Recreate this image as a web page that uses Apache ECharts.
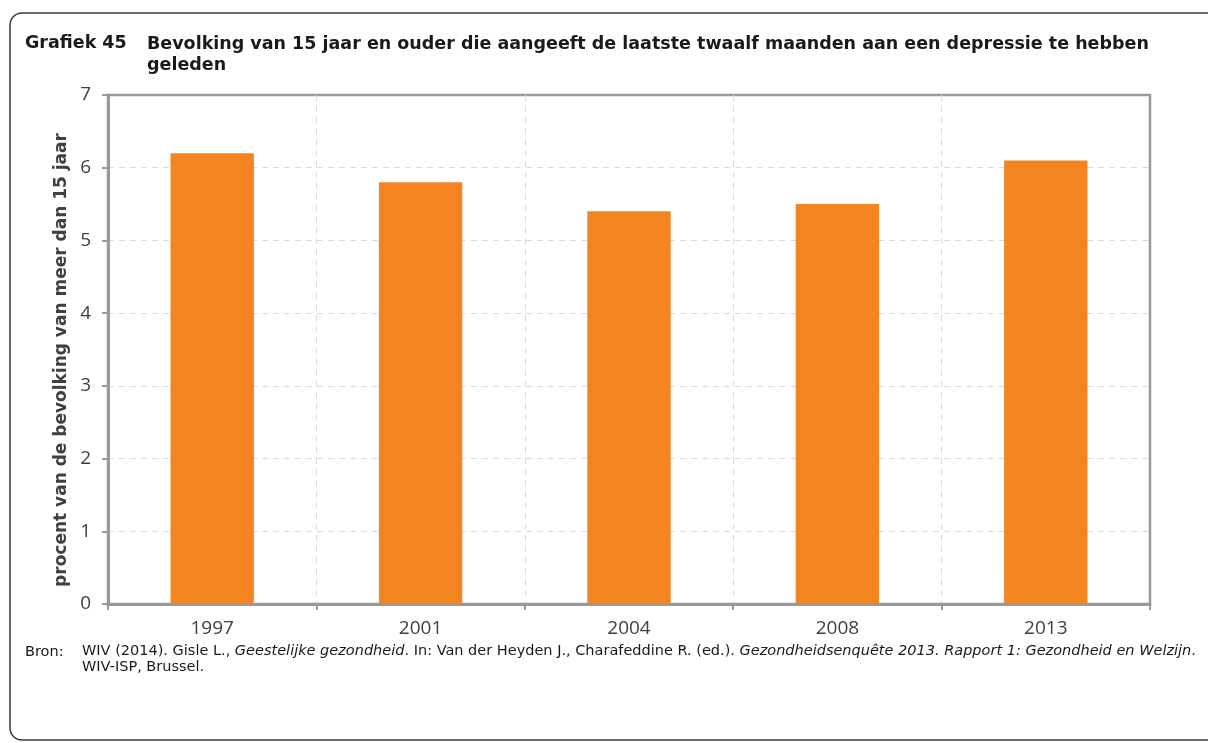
<!DOCTYPE html>
<html>
<head>
<meta charset="utf-8">
<script src="https://cdn.jsdelivr.net/npm/echarts@6/dist/echarts.min.js"></script>
<style>
  html, body { margin: 0; padding: 0; background: #fff; }
  #chart { width: 1208px; height: 743px; }
</style>
</head>
<body>
<div id="chart"></div>
<script>
// Survey years and share of population (15+) reporting depression in the last 12 months
const years = ['1997', '2001', '2004', '2008', '2013'];
const percentages = [6.2, 5.8, 5.4, 5.5, 6.1];
const yTicks = [0, 1, 2, 3, 4, 5, 6, 7];

const titleNumber = 'Grafiek 45';
const titleLine1 = 'Bevolking van 15 jaar en ouder die aangeeft de laatste twaalf maanden aan een depressie te hebben';
const titleLine2 = 'geleden';
const yAxisName = 'procent van de bevolking van meer dan 15 jaar';

const chart = echarts.init(document.getElementById('chart'), null, { renderer: 'canvas' });

const axisGray = '#999999';
const textGray = '#404040';
const gridDash = { color: '#d9d9d9', type: [6, 5], width: 1 };

chart.setOption({
  animation: false,
  backgroundColor: '#ffffff',
  grid: {
    left: 108, top: 95, right: 58, bottom: 139,
    show: true, borderColor: axisGray, borderWidth: 2.5
  },
  xAxis: {
    type: 'category',
    data: years,
    axisLine: { lineStyle: { color: axisGray, width: 3 } },
    axisTick: { show: true, alignWithLabel: false, length: 6, lineStyle: { color: axisGray, width: 2 } },
    axisLabel: { color: textGray, fontFamily: 'Open Sans', fontSize: 19, margin: 15 },
    splitLine: { show: true, showMinLine: false, showMaxLine: false, lineStyle: gridDash }
  },
  yAxis: {
    type: 'value',
    min: yTicks[0],
    max: yTicks[yTicks.length - 1],
    interval: 1,
    axisLine: { show: true, lineStyle: { color: axisGray, width: 3 } },
    axisTick: { show: true, length: 6, lineStyle: { color: axisGray, width: 2 } },
    axisLabel: { color: textGray, fontFamily: 'Open Sans', fontSize: 19, margin: 17 },
    splitLine: { show: true, showMinLine: false, showMaxLine: false, lineStyle: gridDash }
  },
  series: [{
    type: 'bar',
    data: percentages,
    barWidth: '40%',
    itemStyle: { color: '#f48422' }
  }],
  graphic: [
    {
      type: 'rect',
      shape: { x: 10, y: 13, width: 1240, height: 727, r: 12 },
      style: { fill: 'none', stroke: '#3a3a3a', lineWidth: 1.5 },
      silent: true
    },
    {
      // vertical axis title
      type: 'text', x: 62, y: 360, rotation: Math.PI / 2,
      style: {
        text: yAxisName, fill: textGray, font: 'bold 17px "DejaVu Sans"',
        align: 'center', verticalAlign: 'middle'
      }
    },
    {
      type: 'text', left: 25, top: 34,
      style: { text: titleNumber, fill: '#1a1a1a', font: 'bold 17.5px "DejaVu Sans"' }
    },
    {
      type: 'text', left: 147, top: 34,
      style: { text: titleLine1 + '\n' + titleLine2, fill: '#1a1a1a', font: 'bold 17.5px "DejaVu Sans"', lineHeight: 21 }
    },
    {
      type: 'text', left: 25, top: 644,
      style: { text: 'Bron:', fill: '#1a1a1a', font: '14.5px "DejaVu Sans"', lineHeight: 16 }
    },
    {
      type: 'text', left: 82, top: 644,
      style: {
        text: '{n|WIV (2014). Gisle L., }{i|Geestelijke gezondheid}{n|. In: Van der Heyden J., Charafeddine R. (ed.). }{i|Gezondheidsenquête 2013. Rapport 1: Gezondheid en Welzijn}{n|.}\n{n|WIV-ISP, Brussel.}',
        rich: {
          n: { fill: '#1a1a1a', fontFamily: 'DejaVu Sans', fontSize: 14.5, lineHeight: 16 },
          i: { fill: '#1a1a1a', fontFamily: 'DejaVu Sans', fontSize: 14.5, fontStyle: 'italic', lineHeight: 16 }
        }
      }
    }
  ]
});
</script>
</body>
</html>
